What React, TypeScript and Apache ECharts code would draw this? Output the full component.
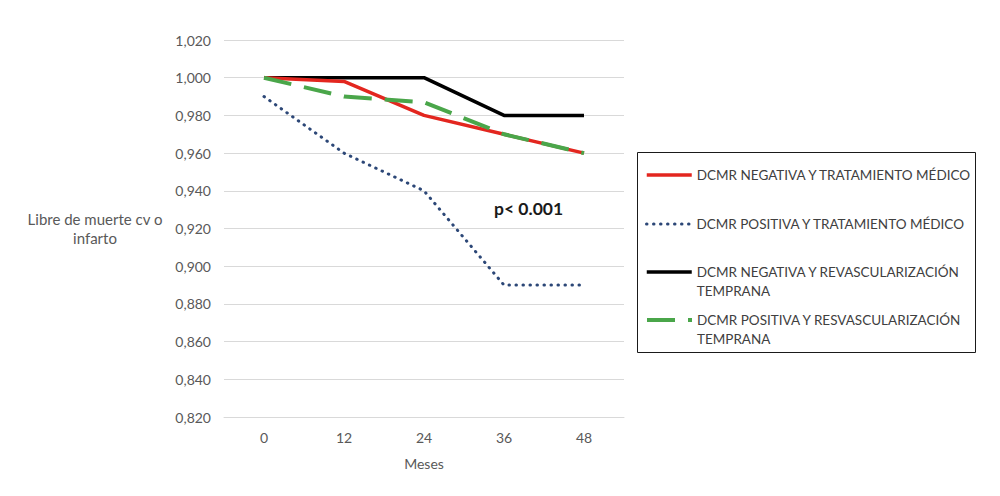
import React, { useEffect, useRef } from "react";
import * as echarts from "echarts";

// Months of follow-up
const meses = ["0", "12", "24", "36", "48"];

// Event-free survival (cardiovascular death or infarction)
const negativaMedico = [1.0, 0.998, 0.98, 0.97, 0.96];
const positivaMedico = [0.99, 0.96, 0.94, 0.89, 0.89];
const negativaRevasc = [1.0, 1.0, 1.0, 0.98, 0.98];
const positivaRevasc = [1.0, 0.99, 0.987, 0.97, 0.96];

const seriesNames = [
  "DCMR NEGATIVA Y TRATAMIENTO MÉDICO",
  "DCMR POSITIVA Y TRATAMIENTO MÉDICO",
  "DCMR NEGATIVA Y REVASCULARIZACIÓN TEMPRANA",
  "DCMR POSITIVA Y RESVASCULARIZACIÓN TEMPRANA",
];
const legendLabels = [
  "DCMR NEGATIVA Y TRATAMIENTO MÉDICO",
  "DCMR POSITIVA Y TRATAMIENTO MÉDICO",
  "\nDCMR NEGATIVA Y REVASCULARIZACIÓN\nTEMPRANA",
  "\nDCMR POSITIVA Y RESVASCULARIZACIÓN\nTEMPRANA",
];

const yTicks = { min: 0.82, max: 1.02, step: 0.02 };
const pValueText = "p< 0.001";

const FONT = "Lato, 'Open Sans', sans-serif";
const TEXT_GRAY = "#595959";

const seriesStyles = [
  { color: "#e3261f", width: 3.5, type: "solid" as any, cap: "butt" },
  { color: "#2c4777", width: 3, type: [0.5, 6.5] as any, cap: "round" },
  { color: "#000000", width: 3.5, type: "solid" as any, cap: "butt" },
  { color: "#4aa64a", width: 4, type: [28, 13] as any, cap: "butt" },
];

export default function App() {
  const ref = useRef<HTMLDivElement>(null);

  useEffect(() => {
    if (!ref.current) return;
    const chart = echarts.init(ref.current, undefined, { renderer: "svg" });

    const legendTops = [165.5, 214.5, 243.5, 291.5];
    const seriesData = [negativaMedico, positivaMedico, negativaRevasc, positivaRevasc];
    const zs = [3, 2, 2, 4];

    chart.setOption({
      animation: false,
      backgroundColor: "#ffffff",
      textStyle: { fontFamily: FONT },
      grid: { left: 224, right: 376, top: 40, bottom: 79 },
      xAxis: {
        type: "category",
        data: meses,
        boundaryGap: true,
        axisTick: { show: false },
        axisLine: { lineStyle: { color: "#d9d9d9", width: 1 } },
        axisLabel: { color: TEXT_GRAY, fontSize: 14, margin: 13, fontFamily: FONT },
        name: "Meses",
        nameLocation: "middle",
        nameGap: 46,
        nameTextStyle: { color: TEXT_GRAY, fontSize: 14, verticalAlign: "middle", fontFamily: FONT },
      },
      yAxis: {
        type: "value",
        min: yTicks.min,
        max: yTicks.max,
        interval: yTicks.step,
        axisLine: { show: false },
        axisTick: { show: false },
        splitLine: { lineStyle: { color: "#d9d9d9", width: 1 } },
        axisLabel: {
          color: TEXT_GRAY,
          fontSize: 14,
          margin: 13,
          fontFamily: FONT,
          formatter: (v: number) => v.toFixed(3).replace(".", ","),
        },
        name: "Libre de muerte cv o\ninfarto",
        nameLocation: "middle",
        nameRotate: 0,
        nameGap: 129,
        nameTextStyle: {
          color: TEXT_GRAY,
          fontSize: 15,
          align: "center",
          verticalAlign: "middle",
          lineHeight: 19,
          fontFamily: FONT,
        },
      },
      legend: seriesNames.map((name, i) => ({
        data: [name],
        orient: "vertical",
        left: 645,
        top: legendTops[i],
        padding: 0,
        itemWidth: 45,
        itemHeight: 14,
        itemStyle: { opacity: 0, borderWidth: 0 },
        lineStyle: {
          color: seriesStyles[i].color,
          width: seriesStyles[i].width,
          type: seriesStyles[i].type,
          cap: seriesStyles[i].cap,
        },
        formatter: () => legendLabels[i],
        textStyle: { color: "#404040", fontSize: 13.5, lineHeight: 19, fontFamily: FONT },
      })),
      graphic: [
        {
          type: "rect",
          shape: { x: 637.5, y: 152.5, width: 338, height: 200 },
          style: { fill: "none", stroke: "#1a1a1a", lineWidth: 1 },
          silent: true,
        },
        {
          type: "text",
          x: 494,
          y: 208,
          style: {
            text: pValueText,
            fill: "#1a1a1a",
            font: `bold 17.5px ${FONT}`,
            verticalAlign: "middle",
          },
        },
      ],
      series: seriesNames.map((name, i) => ({
        name,
        type: "line",
        data: seriesData[i],
        symbol: "none",
        lineStyle: {
          color: seriesStyles[i].color,
          width: seriesStyles[i].width,
          type: seriesStyles[i].type,
          cap: seriesStyles[i].cap,
        },
        itemStyle: { color: seriesStyles[i].color },
        z: zs[i],
      })),
    });

    return () => chart.dispose();
  }, []);

  return (
    <div
      ref={ref}
      style={{ position: "fixed", left: 0, top: 0, width: 1000, height: 496, background: "#fff" }}
    />
  );
}
